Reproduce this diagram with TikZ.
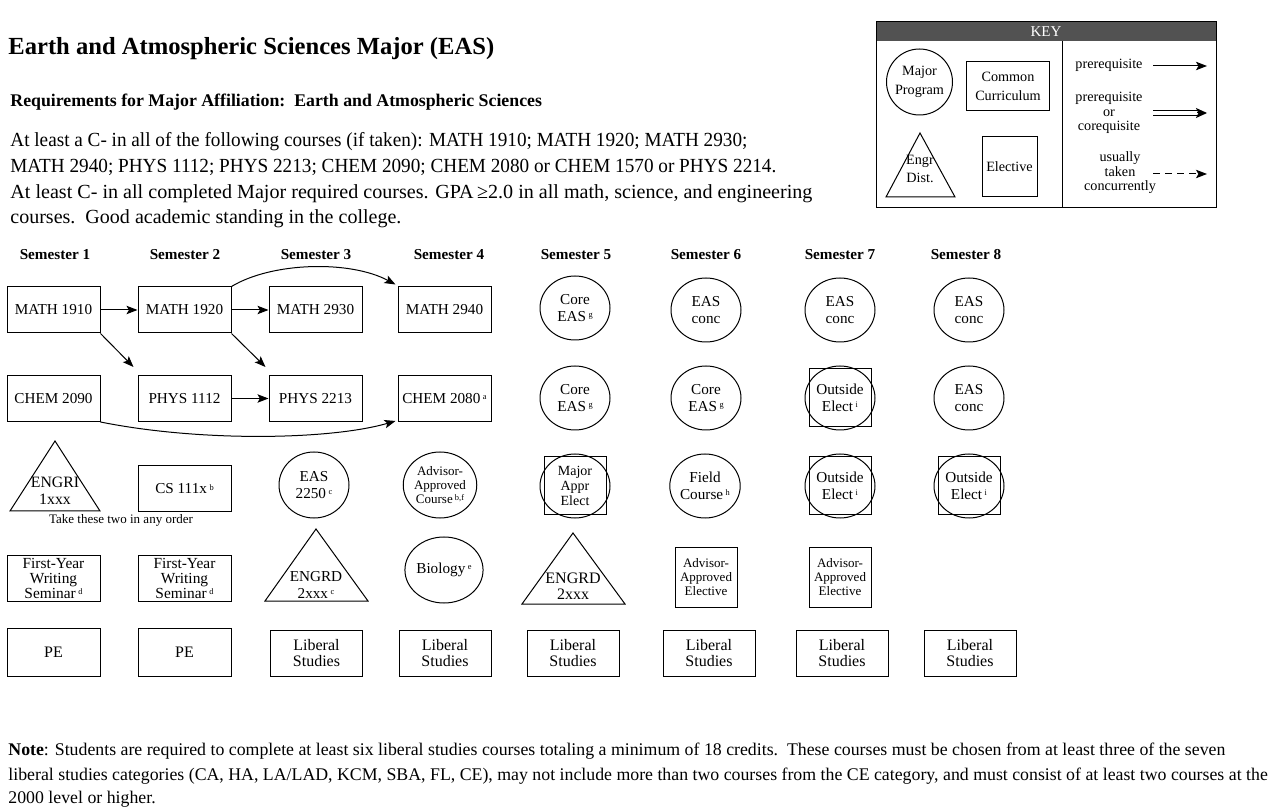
\documentclass[tikz,border=0pt]{standalone}
\usepackage{fontspec}
\setmainfont{Liberation Serif}
\usetikzlibrary{shapes.geometric,arrows.meta}
\newcommand{\spx}[1]{\,\raisebox{0.55ex}{\fontsize{4.2}{4.2}\selectfont #1}}
\newcommand{\fitw}[2]{\resizebox{#1}{\height}{#2}}
\begin{document}
\begin{tikzpicture}[x=0.5pt,y=-0.5pt,
  every node/.style={inner sep=0pt, align=center},
  lw/.style={line width=0.5pt},
  nf/.style={font=\fontsize{7.6}{8.4}\selectfont},
  box/.style={draw, lw, minimum width=46.5pt, minimum height=23pt, nf},
  circ/.style={draw, ellipse, lw, minimum width=35pt, minimum height=32pt, nf},
  sqr/.style={draw, lw, minimum width=31pt, minimum height=29pt},
  hdr/.style={font=\bfseries\fontsize{7.6}{9}\selectfont},
  arr/.style={-{Stealth[length=5.5pt,width=4.2pt,inset=1.2pt]}, lw},
  tri/.style={draw, lw, line join=miter},
  keyf/.style={font=\fontsize{7.1}{9.2}\selectfont},
  bodyf/.style={anchor=base west, font=\fontsize{10}{12}\selectfont},
  notef/.style={anchor=base west, font=\fontsize{8.9}{10}\selectfont},
  small/.style={font=\fontsize{6.5}{7.2}\selectfont},
  libf/.style={font=\fontsize{8}{8.4}\selectfont}
]
\useasboundingbox (0,0) rectangle (1280,812);

% ---- titles and text ----
\node[anchor=base west, font=\bfseries\fontsize{12.3}{14}\selectfont] (title) at (8,55) {Earth and Atmospheric Sciences Major (EAS)};
\node[anchor=base west, font=\bfseries\fontsize{8.9}{10}\selectfont] (req) at (10,107) {Requirements for Major Affiliation:\ \ Earth and Atmospheric Sciences};
\node[bodyf] (b1) at (10,147) {\fitw{368.5pt}{At least a C- in all of the following courses (if taken): MATH 1910; MATH 1920; MATH 2930;}};
\node[bodyf] (b2) at (10,173) {\fitw{383pt}{MATH 2940; PHYS 1112; PHYS 2213; CHEM 2090; CHEM 2080 or CHEM 1570 or PHYS 2214.}};
\node[bodyf] (b3) at (10,199) {\fitw{401pt}{At least C- in all completed Major required courses. GPA\,≥2.0 in all math, science, and engineering}};
\node[bodyf] (b4) at (10,224) {\fitw{195.5pt}{courses.\ \ Good academic standing in the college.}};

\node[notef] (n1) at (8,755) {\textbf{Note}: Students are required to complete at least six liberal studies courses totaling a minimum of 18 credits.\ \ These courses must be chosen from at least three of the seven};
\node[notef] (n2) at (8,780) {liberal studies categories (CA, HA, LA/LAD, KCM, SBA, FL, CE), may not include more than two courses from the CE category, and must consist of at least two courses at the};
\node[notef] (n3) at (8,803) {2000 level or higher.};

% ---- key ----
\fill[black!68] (876,22) rectangle (1216,41);
\draw[lw] (876,22) rectangle (1216,208);
\node[text=white, font=\fontsize{7.5}{8}\selectfont] (keyt) at (1046,32) {KEY};
\draw[lw] (1062,41) -- (1062,208);
\node[draw, circle, lw, minimum size=33pt, keyf] (kmaj) at (919.5,82) {Major\\Program};
\node[draw, lw, minimum width=41.5pt, minimum height=24.5pt, keyf] (kcc) at (1008,86.5) {Common\\Curriculum};
\draw[tri] (886,197) -- (920,133) -- (955,197) -- cycle;
\node[keyf] (keng) at (920,169) {Engr\\Dist.};
\node[draw, lw, minimum width=27.5pt, minimum height=30pt, keyf] (kel) at (1009.5,167) {Elective};
\node[keyf] (kpre) at (1109,65) {prerequisite};
\coordinate (ka1s) at (1153,66); \coordinate (ka1e) at (1207,66);
\draw[arr] (ka1s) -- (ka1e);
\node[keyf, font=\fontsize{7.1}{7.3}\selectfont] (kpc) at (1109,113) {prerequisite\\or\\corequisite};
\coordinate (ka2s) at (1153,113); \coordinate (ka2e) at (1207,113);
\draw[lw] ([shift={(0,-2.5)}]ka2s) -- ([shift={(-6,-2.5)}]ka2e);
\draw[lw] ([shift={(0,2.5)}]ka2s) -- ([shift={(-6,2.5)}]ka2e);
\draw[-{Stealth[length=5.5pt,width=5pt,inset=1.2pt]}, lw] ([shift={(-10,0)}]ka2e) -- (ka2e);
\node[keyf, font=\fontsize{7.1}{7.3}\selectfont] (kconc) at (1120,173) {usually\\taken\\concurrently};
\coordinate (ka3s) at (1153,174); \coordinate (ka3e) at (1207,174);
\draw[arr, dash pattern=on 3.5pt off 2.5pt] (ka3s) -- (ka3e);

% ---- headers ----
\node[hdr] (h1) at (55,255) {Semester 1};
\node[hdr] (h2) at (185,255) {Semester 2};
\node[hdr] (h3) at (316,255) {Semester 3};
\node[hdr] (h4) at (449,255) {Semester 4};
\node[hdr] (h5) at (576,255) {Semester 5};
\node[hdr] (h6) at (706,255) {Semester 6};
\node[hdr] (h7) at (840,255) {Semester 7};
\node[hdr] (h8) at (966,255) {Semester 8};

% ---- row 1 & 2 ----
\node[box] (m1910) at (53.5,310) {MATH 1910};
\node[box] (m1920) at (184.5,310) {MATH 1920};
\node[box] (m2930) at (315.5,310) {MATH 2930};
\node[box] (m2940) at (444.5,310) {MATH 2940};
\node[box] (c2090) at (53.5,398.5) {CHEM 2090};
\node[box] (p1112) at (184.5,398.5) {PHYS 1112};
\node[box] (p2213) at (315.5,398.5) {PHYS 2213};
\node[box] (c2080) at (444.5,398.5) {CHEM 2080\spx{a}};

\node[circ] (s5a) at (575,308) {Core\\EAS\spx{g}};
\node[circ] (s6a) at (706,310) {EAS\\conc};
\node[circ] (s7a) at (840,310) {EAS\\conc};
\node[circ] (s8a) at (969,310) {EAS\\conc};
\node[circ] (s5b) at (575,398) {Core\\EAS\spx{g}};
\node[circ] (s6b) at (706,398) {Core\\EAS\spx{g}};
\node[sqr] (s7b-sq) at (840,398) {};
\node[circ] (s7b) at (840,398) {Outside\\Elect\spx{i}};
\node[circ] (s8b) at (969,398) {EAS\\conc};

% ---- row 3 ----
\draw[tri] (10,511) -- (55,441) -- (100,511) -- cycle;
\node[nf, font=\fontsize{7.9}{8.6}\selectfont] (engri) at (55,491) {ENGRI\\1xxx};
\node[small] (take) at (121,520) {Take these two in any order};
\node[box] (cs) at (184.5,489) {CS 111x\spx{b}};
\node[circ, minimum height=33pt] (eas2250) at (314,485) {EAS\\2250\spx{c}};
\node[circ, minimum height=33pt, small] (aac) at (440,485) {Advisor-\\Approved\\Course\spx{b,f}};
\node[sqr] (s5c-sq) at (575,486) {};
\node[circ, font=\fontsize{7}{7.6}\selectfont] (s5c) at (575,486) {Major\\Appr\\Elect};
\node[circ] (s6c) at (705,486) {Field\\Course\spx{h}};
\node[sqr] (s7c-sq) at (840,486) {};
\node[circ] (s7c) at (840,486) {Outside\\Elect\spx{i}};
\node[sqr] (s8c-sq) at (969,486) {};
\node[circ] (s8c) at (969,486) {Outside\\Elect\spx{i}};

% ---- row 4 ----
\node[box, font=\fontsize{7.7}{7.3}\selectfont] (fy1) at (53.5,578.5) {First-Year\\Writing\\Seminar\spx{d}};
\node[box, font=\fontsize{7.7}{7.3}\selectfont] (fy2) at (184.5,578.5) {First-Year\\Writing\\Seminar\spx{d}};
\draw[tri] (265,601) -- (316,529) -- (368,601) -- cycle;
\node[nf] (engrd3) at (316,585) {ENGRD\\2xxx\spx{c}};
\node[circ, minimum height=33pt] (bio) at (444,570) {Biology\spx{e}};
\draw[tri] (522,604) -- (573,533) -- (625,604) -- cycle;
\node[nf, font=\fontsize{8}{8}\selectfont] (engrd5) at (573,586) {ENGRD\\2xxx};
\node[box, minimum width=31pt, minimum height=30pt, small] (aae6) at (706,577) {Advisor-\\Approved\\Elective};
\node[box, minimum width=31pt, minimum height=30pt, small] (aae7) at (840,577) {Advisor-\\Approved\\Elective};

% ---- row 5 ----
\node[box, minimum height=24pt, libf] (pe1) at (53.5,652) {PE};
\node[box, minimum height=24pt, libf] (pe2) at (184.5,652) {PE};
\node[box, minimum width=46pt, libf] (ls3) at (316.5,653) {Liberal\\Studies};
\node[box, minimum width=46pt, libf] (ls4) at (445,653) {Liberal\\Studies};
\node[box, minimum width=46pt, libf] (ls5) at (573,653) {Liberal\\Studies};
\node[box, minimum width=46pt, libf] (ls6) at (709,653) {Liberal\\Studies};
\node[box, minimum width=46pt, libf] (ls7) at (842,653) {Liberal\\Studies};
\node[box, minimum width=46pt, libf] (ls8) at (970,653) {Liberal\\Studies};

% ---- arrows ----
\draw[arr] (m1910) -- (m1920);
\draw[arr] (m1910.south east) -- ([shift={(-4,-8)}]p1112.north west);
\draw[arr] (m1920) -- (m2930);
\draw[arr] (m1920.south east) -- ([shift={(-3,-8)}]p2213.north west);
\draw[arr] (p1112) -- (p2213);
\draw[arr] (m1920.north east) .. controls (272,262) and (350,260) .. ([shift={(-2,-2)}]m2940.north west);
\draw[arr] (c2090.south east) .. controls (200,442) and (330,440) .. ([shift={(-2,-1)}]c2080.south west);
\end{tikzpicture}
\end{document}
